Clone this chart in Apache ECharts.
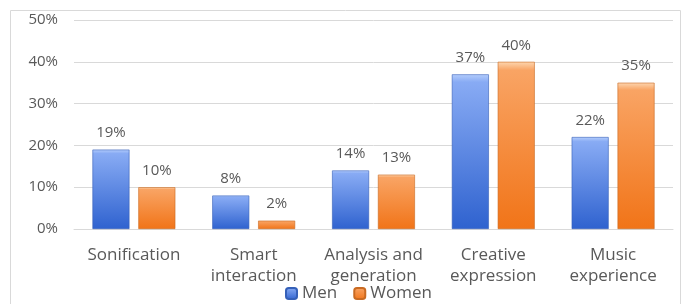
<!DOCTYPE html>
<html>
<head>
<meta charset="utf-8">
<script src="https://cdn.jsdelivr.net/npm/echarts@6/dist/echarts.min.js"></script>
<style>
  html, body { margin: 0; padding: 0; background: #fff; }
  #main { width: 682px; height: 304px; }
</style>
</head>
<body>
<div id="main"></div>
<script>
// categories and values (percent)
const categories = ['Sonification', 'Smart\ninteraction', 'Analysis and\ngeneration', 'Creative\nexpression', 'Music\nexperience'];
const menValues = [19, 8, 14, 37, 22];
const womenValues = [10, 2, 13, 40, 35];

const chart = echarts.init(document.getElementById('main'), null, { renderer: 'canvas' });

// bar fills, light on top -> darker bottom
const blueFill = new echarts.graphic.LinearGradient(0, 0, 0, 1, [
  { offset: 0, color: '#b4cdfc' },
  { offset: 0.05, color: '#88abf4' },
  { offset: 1, color: '#2f62cf' }
]);
const orangeFill = new echarts.graphic.LinearGradient(0, 0, 0, 1, [
  { offset: 0, color: '#fdd6b0' },
  { offset: 0.05, color: '#f9a464' },
  { offset: 1, color: '#f17418' }
]);

const labelStyle = {
  show: true,
  position: 'top',
  distance: 9,
  formatter: '{c}%',
  color: '#595959',
  fontSize: 15,
  fontFamily: 'Open Sans'
};

var option = {
  animation: false,
  textStyle: { fontFamily: 'Open Sans' },
  graphic: [{
    type: 'rect',
    shape: { x: 10.5, y: 10.5, width: 670, height: 300 },
    style: { fill: 'none', stroke: '#d9d9d9', lineWidth: 1 },
    silent: true
  }],
  grid: { left: 74, right: 9, top: 20, bottom: 75 },
  legend: {
    data: ['Men', 'Women'],
    bottom: -3,
    left: 280,
    itemWidth: 11,
    itemHeight: 11,
    itemGap: 16,
    textStyle: { color: '#595959', fontSize: 17 }
  },
  xAxis: {
    type: 'category',
    data: categories,
    axisLine: { show: true, lineStyle: { color: '#d9d9d9' } },
    axisTick: { show: false },
    axisLabel: {
      color: '#595959',
      fontSize: 17,
      lineHeight: 21,
      margin: 16,
      interval: 0
    }
  },
  yAxis: {
    type: 'value',
    min: 0,
    max: 50,
    interval: 10,
    axisLine: { show: false },
    axisTick: { show: false },
    axisLabel: {
      formatter: '{value}%',
      color: '#595959',
      fontSize: 15,
      margin: 16
    },
    splitLine: { lineStyle: { color: '#d9d9d9' } }
  },
  series: [
    {
      name: 'Men',
      type: 'bar',
      data: menValues,
      barWidth: 37,
      barGap: '24%',
      itemStyle: { color: blueFill, borderColor: '#3560b8', borderWidth: 0.6 },
      label: labelStyle
    },
    {
      name: 'Women',
      type: 'bar',
      data: womenValues,
      barWidth: 37,
      itemStyle: { color: orangeFill, borderColor: '#c96a22', borderWidth: 0.6 },
      label: labelStyle
    }
  ]
};

chart.setOption(option);
</script>
</body>
</html>
